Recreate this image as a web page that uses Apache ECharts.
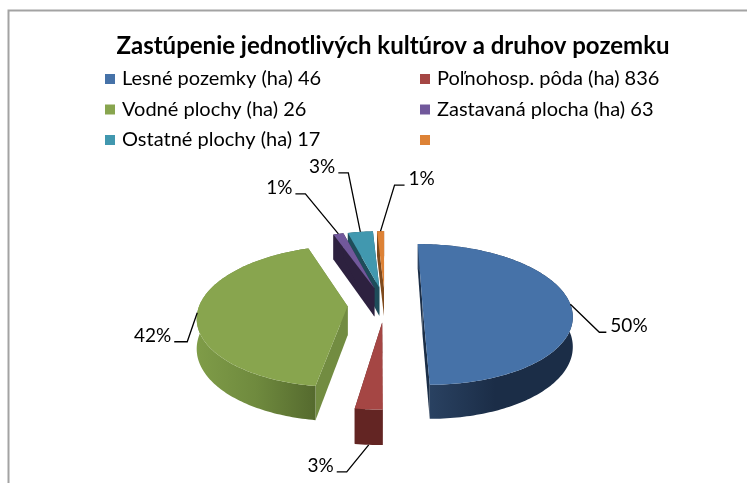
<!DOCTYPE html>
<html>
<head>
<meta charset="utf-8">
<script src="https://cdn.jsdelivr.net/npm/echarts@6/dist/echarts.min.js"></script>
<style>
  html, body { margin: 0; padding: 0; background: #fff; }
  #chart { width: 747px; height: 483px; }
</style>
</head>
<body>
<div id="chart"></div>
<script>
const titleText = 'Zastúpenie jednotlivých kultúrov a druhov pozemku'
const categories = [
  'Lesné pozemky (ha) 46',
  'Poľnohosp. pôda (ha) 836',
  'Vodné plochy (ha) 26',
  'Zastavaná plocha (ha) 63',
  'Ostatné plochy (ha) 17',
  ' '
]
// podiely v percentach, odcitane z obrazka
const shares = [49.9, 2.5, 42.2, 1.3, 3.2, 0.9]

const topColors = ['#4672a8', '#a54644', '#88a54e', '#71589b', '#4198af', '#dd8236']
const radialColors = ['#1b2e47', '#632523', '#728c41', '#2d213f', '#1e4d5a', '#7f4a1d']
const rimColors = [
  ['#2c4566', '#1b2d47', '#1b2d47'],
  ['#632523', '#632523', '#632523'],
  ['#7f9c48', '#6f8a3e', '#556a2e'],
  ['#2d213f', '#2d213f', '#2d213f'],
  ['#1e4d5a', '#1e4d5a', '#1e4d5a'],
  ['#7f4a1d', '#7f4a1d', '#7f4a1d']
]
// poradie kreslenia: od zadu dopredu
const drawOrder = [5, 4, 3, 0, 2, 1]
// ohyb vodiacej ciary: dx, dy od okraja vysece, dlzka vodorovnej casti
const leaders = [
  [29, 28, 7],
  [-22, 27, -10],
  [-10, 29, -13],
  [-33, -40, -10],
  [-12, -59, -10],
  [14, -46, 10]
]

// parametre perspektivy
const cx = 385
const cy = 304.5
const radius = 148
const yScale = 69
const persp = 0.142
const explode = 0.253
const depth = 29.2

const project = (x, t, z) => {
  const f = 1 / (1 - persp * t)
  return [cx + x * radius * f, cy + yScale * t * f + z * depth * f]
}

const starts = []
shares.reduce((acc, v, i) => {
  starts[i] = acc
  return acc + v
}, 0)

const hGradient = stops => ({
  type: 'linear', x: 0, y: 0, x2: 1, y2: 0,
  colorStops: [
    { offset: 0, color: stops[0] },
    { offset: 0.5, color: stops[1] },
    { offset: 1, color: stops[2] }
  ]
})

const renderSlice = index => (params, api) => {
  const value = api.value(0)
  const a = starts[index] / 100 * Math.PI * 2
  const b = a + value / 100 * Math.PI * 2
  const mid = (a + b) / 2
  const ox = Math.sin(mid) * explode
  const oy = -Math.cos(mid) * explode

  const rim = []
  const steps = Math.max(2, Math.ceil((b - a) / 0.02))
  for (let i = 0; i <= steps; i++) {
    const th = a + (b - a) * i / steps
    rim.push([ox + Math.sin(th), oy - Math.cos(th)])
  }
  const top = p => project(p[0], p[1], 0)
  const bottom = p => project(p[0], p[1], 1)
  const apex = [ox, oy]
  const quad = (p, q) => [top(p), top(q), bottom(q), bottom(p)]

  const children = []
  const addPoly = (points, fill) => children.push({
    type: 'polygon',
    shape: { points },
    style: { fill, stroke: null },
    z2: children.length
  })

  addPoly(quad(apex, rim[0]), radialColors[index])
  addPoly(quad(apex, rim[rim.length - 1]), radialColors[index])
  addPoly(rim.map(top).concat(rim.slice().reverse().map(bottom)), hGradient(rimColors[index]))
  addPoly([top(apex)].concat(rim.map(top)), topColors[index])

  // popisok s vodiacou ciarou, pri prednej vyseci ide od spodnej hrany
  const front = -Math.cos(mid) > 0.9
  const start = project(ox + Math.sin(mid), oy - Math.cos(mid), front ? 1 : 0)
  const [dx, dy, run] = leaders[index]
  const elbow = [start[0] + dx, start[1] + dy]
  const end = [elbow[0] + run, elbow[1]]
  children.push({
    type: 'polyline',
    shape: { points: [start, elbow, end] },
    style: { stroke: '#000', lineWidth: 1.3, fill: null },
    z2: 50
  })
  children.push({
    type: 'text',
    style: {
      text: Math.round(value) + '%',
      x: end[0] + (run > 0 ? 4 : -3),
      y: end[1] - 6,
      align: run > 0 ? 'left' : 'right',
      verticalAlign: 'middle',
      font: '19px Lato',
      fill: '#000'
    },
    z2: 51
  })
  return { type: 'group', children }
}

const legendCommon = {
  orient: 'vertical',
  icon: 'rect',
  itemWidth: 10,
  itemHeight: 10,
  itemGap: 10.5,
  padding: 0,
  selectedMode: false,
  textStyle: { fontFamily: 'Lato', fontSize: 20, color: '#000', padding: [0, 0, 0, 2] }
}

const chart = echarts.init(document.getElementById('chart'), null, { renderer: 'canvas' })
chart.setOption({
  animation: false,
  backgroundColor: '#fff',
  color: topColors,
  title: {
    text: titleText,
    left: 388,
    top: 29,
    textAlign: 'center',
    textStyle: { fontFamily: 'Lato', fontWeight: 'bold', fontSize: 24, color: '#000' }
  },
  legend: [
    { ...legendCommon, left: 105, top: 69, data: [categories[0], categories[2], categories[4]] },
    { ...legendCommon, left: 420, top: 69, data: [categories[1], categories[3], categories[5]] }
  ],
  graphic: [
    {
      type: 'polyline',
      shape: { points: [[8.5, 483], [8.5, 10.5], [747, 10.5]] },
      style: { stroke: '#a3a3a3', lineWidth: 2, fill: null },
      silent: true
    }
  ],
  series: categories.map((name, i) => ({
    type: 'custom',
    name,
    coordinateSystem: 'none',
    z: 2 + drawOrder.indexOf(i),
    itemStyle: { color: topColors[i] },
    renderItem: renderSlice(i),
    data: [[shares[i]]]
  }))
})
</script>
</body>
</html>
